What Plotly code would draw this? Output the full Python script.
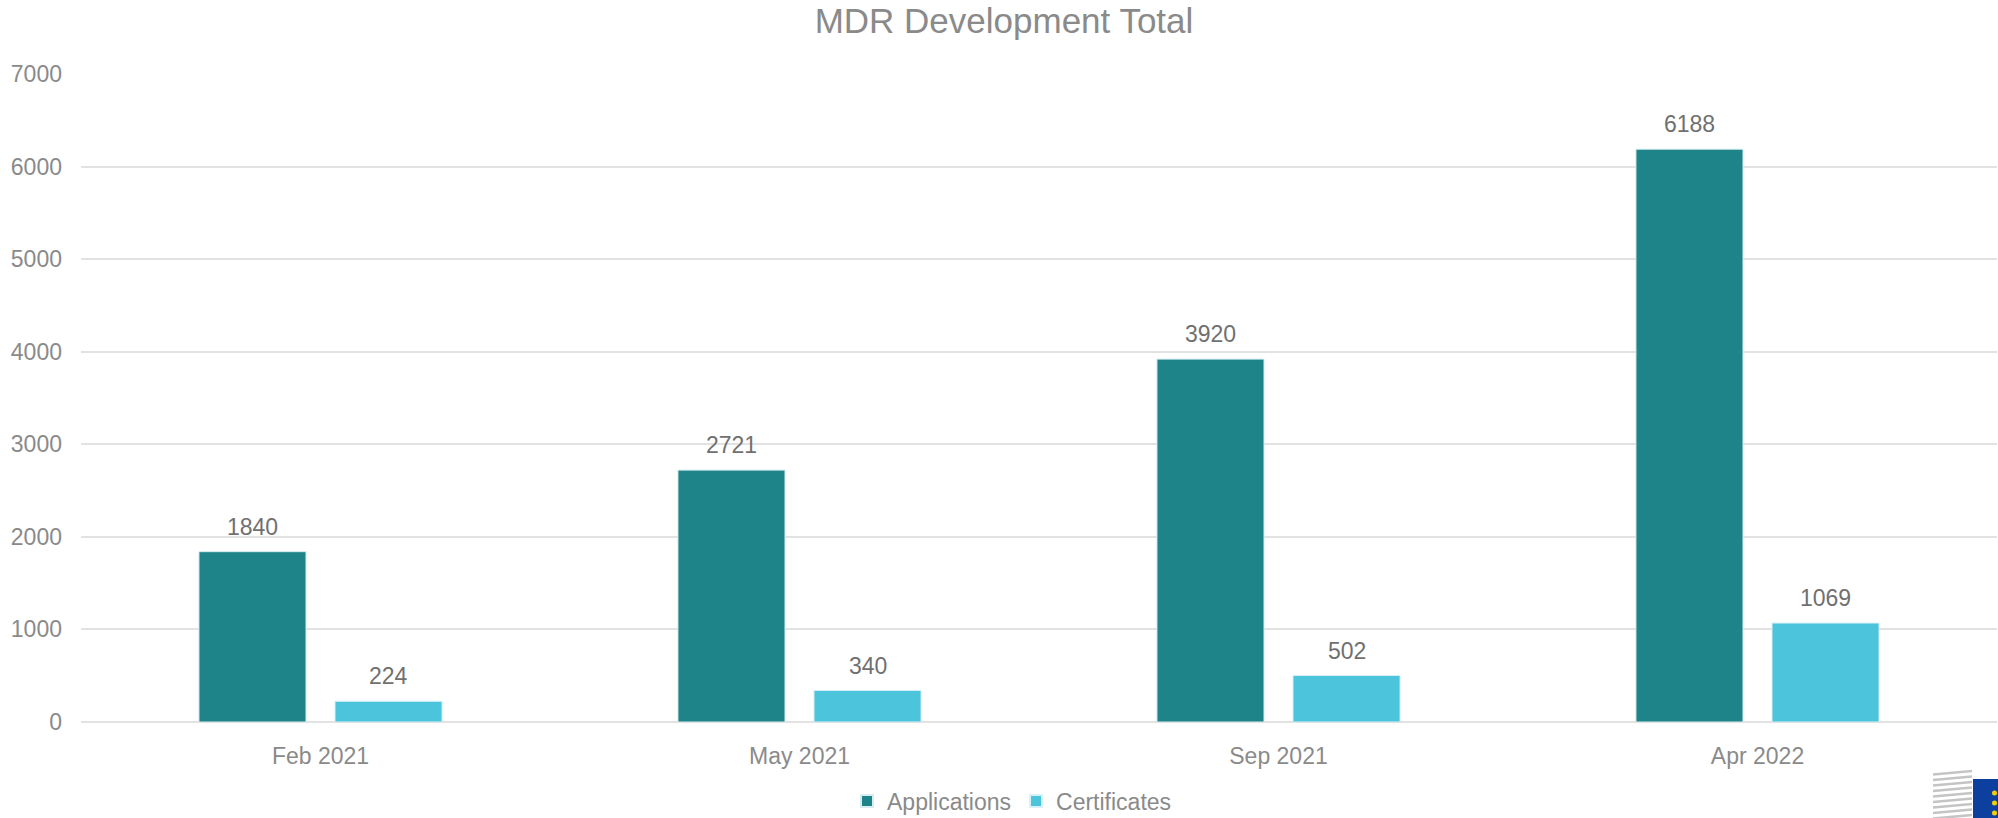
import plotly.graph_objects as go

# chart data
periods = ["Feb 2021", "May 2021", "Sep 2021", "Apr 2022"]
applications = [1840, 2721, 3920, 6188]
certificates = [224, 340, 502, 1069]
y_ticks = [0, 1000, 2000, 3000, 4000, 5000, 6000, 7000]

W, H = 1998, 818
PLOT_L, PLOT_R, PLOT_T, PLOT_B = 81, 1997, 74, 722   # plot box in window pixels
M_L, M_T, M_R, M_B = PLOT_L, PLOT_T, W - PLOT_R, H - PLOT_B
BARGAP = 0.432
FONT = "Liberation Sans, Arial, sans-serif"
GRID = "#e2e2e2"
TXT = "#8a8a8a"

cat_px = (PLOT_R - PLOT_L) / len(periods)

fig = go.Figure()
fig.add_trace(go.Bar(name="Applications", x=periods, y=applications,
                     marker=dict(color="#1f8489", line=dict(color="#d6eef0", width=1))))
fig.add_trace(go.Bar(name="Certificates", x=periods, y=certificates,
                     marker=dict(color="#4bc4dc", line=dict(color="#d6f1f7", width=1))))

# value labels above bars, shifted to each bar's centre in the group
slot = cat_px * (1 - BARGAP) / 2
for vals, sh in [(applications, -slot / 2), (certificates, slot / 2)]:
    for p, v in zip(periods, vals):
        fig.add_annotation(x=p, y=v, text=str(v), showarrow=False,
                           xshift=sh, yshift=10, yanchor="bottom",
                           font=dict(size=23, color="#707070", family=FONT))

# window pixels -> paper coords
def px_x(px):
    return (px - M_L) / (W - M_L - M_R)

def px_y(py):
    return (H - M_B - py) / (H - M_T - M_B)

# small EU logo stub in the bottom-right corner
shapes = []
for i in range(9):
    y0 = 772 + i * 5.5
    shapes.append(dict(type="line", xref="paper", yref="paper",
                       x0=px_x(1933), x1=px_x(1972),
                       y0=px_y(y0 + 2.5), y1=px_y(y0 - 1),
                       line=dict(color="#c4c4c4", width=2.5)))
shapes.append(dict(type="rect", xref="paper", yref="paper",
                   x0=px_x(1973), x1=px_x(1999), y0=px_y(779), y1=px_y(819),
                   fillcolor="#0d3f9e", line=dict(width=0)))
for sy in [793, 803, 813]:
    shapes.append(dict(type="circle", xref="paper", yref="paper",
                       x0=px_x(1992), x1=px_x(1997), y0=px_y(sy + 2.5), y1=px_y(sy - 2.5),
                       fillcolor="#f5d000", line=dict(width=0)))

fig.update_layout(
    width=W, height=H,
    template="plotly_white",
    paper_bgcolor="white",
    plot_bgcolor="white",
    font=dict(family=FONT, size=23, color=TXT),
    title=dict(text="MDR Development Total", x=px_x(1004), xref="paper", xanchor="center",
               y=1 - 21 / H, yanchor="middle",
               font=dict(size=35, color=TXT, family=FONT)),
    barmode="group", bargap=BARGAP, bargroupgap=0.213,
    margin=dict(l=M_L, r=M_R, t=M_T, b=M_B, pad=0, autoexpand=False),
    legend=dict(orientation="h", x=px_x(1012), xanchor="center",
                y=px_y(801), yanchor="middle",
                font=dict(size=23, color=TXT, family=FONT),
                itemsizing="constant"),
    shapes=shapes,
)
fig.update_xaxes(range=[-0.5, len(periods) - 0.5], showgrid=False, showline=False,
                 ticks="", automargin=False, tickfont=dict(size=23, color=TXT),
                 ticklabelstandoff=18)
fig.update_yaxes(range=[0, 7000], tickvals=y_ticks, gridcolor=GRID, gridwidth=2,
                 zeroline=True, zerolinecolor=GRID, zerolinewidth=2, automargin=False,
                 showline=False, ticks="", ticklabelstandoff=18,
                 tickfont=dict(size=23, color=TXT))

# drop the default 8px page margin so the figure fills the window exactly
fig.write_html("out.html", config={"displayModeBar": False},
               post_script="document.body.style.margin='0';")
